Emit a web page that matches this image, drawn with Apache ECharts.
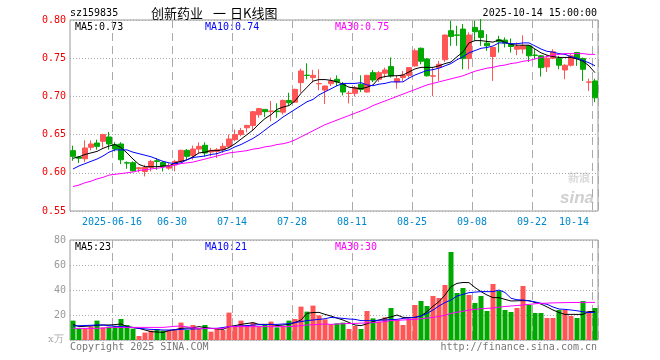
<!DOCTYPE html>
<html><head><meta charset="utf-8">
<script src="https://cdn.jsdelivr.net/npm/echarts@6/dist/echarts.min.js"></script>
<style>html,body{margin:0;padding:0;background:#fff}#c{width:660px;height:360px}</style>
</head><body><div id="c"></div>
<script>
const dates = ['2025-06-05','2025-06-06','2025-06-09','2025-06-10','2025-06-11','2025-06-12','2025-06-13',
'2025-06-16','2025-06-17','2025-06-18','2025-06-19','2025-06-20','2025-06-23','2025-06-24','2025-06-25','2025-06-26','2025-06-27',
'2025-06-30','2025-07-01','2025-07-02','2025-07-03','2025-07-04','2025-07-07','2025-07-08','2025-07-09','2025-07-10','2025-07-11',
'2025-07-14','2025-07-15','2025-07-16','2025-07-17','2025-07-18','2025-07-21','2025-07-22','2025-07-23','2025-07-24','2025-07-25',
'2025-07-28','2025-07-29','2025-07-30','2025-07-31','2025-08-01','2025-08-04','2025-08-05','2025-08-06','2025-08-07','2025-08-08',
'2025-08-11','2025-08-12','2025-08-13','2025-08-14','2025-08-15','2025-08-18','2025-08-19','2025-08-20','2025-08-21','2025-08-22',
'2025-08-25','2025-08-26','2025-08-27','2025-08-28','2025-08-29','2025-09-01','2025-09-02','2025-09-03','2025-09-04','2025-09-05',
'2025-09-08','2025-09-09','2025-09-10','2025-09-11','2025-09-12','2025-09-15','2025-09-16','2025-09-17','2025-09-18','2025-09-19',
'2025-09-22','2025-09-23','2025-09-24','2025-09-25','2025-09-26','2025-09-29','2025-09-30','2025-10-09','2025-10-10','2025-10-13','2025-10-14'];
const labelDates = ['2025-06-16','2025-06-30','2025-07-14','2025-07-28','2025-08-11','2025-08-25','2025-09-08','2025-09-22','2025-10-14'];
const yTicks = [0.55,0.60,0.65,0.70,0.75,0.80];
const priceLegend = ['MA5:0.73','MA10:0.74','MA30:0.75'];
const volLegend = ['MA5:23','MA10:21','MA30:30'];

const open = [0.629,0.6206,0.6184,0.6333,0.639,0.6412,0.6469,0.6368,0.6377,0.6132,
0.6132,0.6053,0.6017,0.607,0.6158,0.6136,0.6061,0.6105,0.6149,0.6294,
0.6224,0.6311,0.636,0.6272,0.6281,0.6303,0.6346,0.6434,0.650,0.659,
0.662,0.676,0.683,0.680,0.681,0.6794,0.6947,0.6925,0.718,0.7278,
0.7246,0.7165,0.7083,0.7167,0.7224,0.7158,0.7038,0.704,0.7158,0.7057,
0.7311,0.7224,0.7303,0.739,0.7189,0.7246,0.7276,0.7399,0.763,0.749,
0.7265,0.7377,0.748,0.786,0.7805,0.7881,0.7495,0.7903,0.786,0.7697,
0.7522,0.7741,0.7737,0.7684,0.7618,0.762,0.7662,0.7541,0.7531,0.7386,
0.75,0.7495,0.7346,0.7408,0.7574,0.7495,0.7185,0.7202];
const close = [0.6215,0.619,0.6325,0.6377,0.6346,0.650,0.6377,0.6311,0.6171,0.6127,
0.6026,0.6066,0.607,0.6149,0.6149,0.6083,0.6092,0.6149,0.6294,0.6215,
0.6311,0.6346,0.6259,0.6294,0.6303,0.6346,0.6443,0.650,0.6553,0.662,
0.680,0.684,0.680,0.681,0.680,0.6947,0.6917,0.7092,0.7333,0.7274,
0.7276,0.7169,0.7136,0.7202,0.7189,0.7057,0.7042,0.7114,0.7092,0.7276,
0.7215,0.7311,0.7346,0.7268,0.7232,0.7276,0.7377,0.7597,0.746,0.727,
0.727,0.7421,0.7803,0.7785,0.780,0.7495,0.7803,0.7846,0.7772,0.7662,
0.764,0.7715,0.7697,0.7653,0.7653,0.766,0.7531,0.7537,0.7377,0.75,
0.7583,0.7408,0.7408,0.7531,0.7495,0.7355,0.719,0.6982];
const low = [0.6158,0.6127,0.614,0.6294,0.6303,0.633,0.6303,0.628,0.6114,0.6053,
0.6018,0.6004,0.5952,0.6018,0.604,0.6018,0.604,0.602,0.614,0.6171,
0.6171,0.6259,0.6215,0.6215,0.6193,0.626,0.6325,0.6412,0.6478,0.653,
0.656,0.672,0.673,0.6675,0.672,0.6763,0.6882,0.692,0.7048,0.7224,
0.718,0.708,0.690,0.7136,0.7136,0.7013,0.6908,0.700,0.7057,0.705,
0.7189,0.7189,0.7246,0.7246,0.7101,0.7202,0.7246,0.739,0.742,0.726,
0.7004,0.7202,0.745,0.7662,0.7662,0.7355,0.7355,0.7728,0.7662,0.7596,
0.7202,0.7574,0.764,0.7574,0.7539,0.756,0.7452,0.7487,0.7259,0.732,
0.7487,0.7355,0.7224,0.739,0.7399,0.7202,0.707,0.6925];
const high = [0.6355,0.622,0.6425,0.6425,0.6434,0.651,0.6535,0.640,0.640,0.6149,
0.615,0.6075,0.6105,0.6171,0.6193,0.615,0.6127,0.617,0.6303,0.631,
0.6355,0.6399,0.6399,0.6325,0.6325,0.639,0.650,0.6566,0.6588,0.663,
0.681,0.685,0.683,0.694,0.691,0.696,0.7048,0.710,0.7364,0.7434,
0.7346,0.7355,0.714,0.7246,0.7276,0.7189,0.707,0.7136,0.7276,0.7276,
0.7346,0.7333,0.7377,0.7509,0.7276,0.7333,0.7377,0.7627,0.764,0.750,
0.7377,0.7465,0.781,0.7991,0.7925,0.7947,0.7838,0.7991,0.8013,0.7816,
0.764,0.7794,0.7772,0.7759,0.7706,0.780,0.7671,0.7618,0.7539,0.7539,
0.7618,0.7531,0.7421,0.7553,0.7583,0.7509,0.7232,0.7232];
const ma5 = [0.619,0.621,0.624,0.626,0.628,0.632,0.635,0.637,0.633,0.626,
0.618,0.611,0.608,0.608,0.608,0.609,0.609,0.613,0.615,0.617,
0.621,0.626,0.627,0.629,0.629,0.630,0.633,0.638,0.644,0.650,
0.656,0.664,0.671,0.676,0.683,0.686,0.688,0.694,0.704,0.712,
0.720,0.722,0.722,0.721,0.719,0.716,0.712,0.711,0.710,0.712,
0.715,0.724,0.726,0.727,0.727,0.728,0.732,0.736,0.738,0.738,
0.738,0.740,0.743,0.745,0.752,0.758,0.770,0.773,0.773,0.772,
0.771,0.774,0.771,0.768,0.767,0.767,0.767,0.762,0.757,0.754,
0.752,0.751,0.751,0.751,0.749,0.746,0.740,0.731];
const ma10 = [0.605,0.609,0.612,0.615,0.618,0.622,0.627,0.630,0.630,0.630,
0.627,0.625,0.623,0.621,0.618,0.615,0.613,0.612,0.613,0.617,
0.620,0.621,0.622,0.624,0.625,0.628,0.630,0.634,0.637,0.641,
0.645,0.650,0.656,0.662,0.667,0.673,0.678,0.683,0.688,0.693,
0.696,0.702,0.706,0.710,0.714,0.717,0.717,0.717,0.718,0.715,
0.714,0.716,0.717,0.719,0.719,0.719,0.724,0.728,0.731,0.734,
0.735,0.737,0.740,0.743,0.748,0.752,0.757,0.760,0.763,0.764,
0.766,0.770,0.770,0.769,0.769,0.770,0.770,0.766,0.762,0.759,
0.758,0.756,0.755,0.752,0.750,0.747,0.744,0.740];
const ma30 = [0.582,0.584,0.587,0.589,0.592,0.594,0.597,0.598,0.599,0.600,
0.601,0.603,0.604,0.605,0.606,0.607,0.609,0.610,0.612,0.613,
0.614,0.616,0.618,0.620,0.622,0.624,0.626,0.627,0.628,0.629,
0.631,0.632,0.634,0.635,0.637,0.638,0.640,0.643,0.647,0.651,
0.655,0.659,0.663,0.666,0.669,0.672,0.675,0.678,0.681,0.684,
0.688,0.691,0.694,0.697,0.700,0.703,0.706,0.709,0.712,0.715,
0.717,0.719,0.721,0.723,0.725,0.727,0.730,0.733,0.735,0.737,
0.738,0.740,0.741,0.743,0.744,0.746,0.747,0.749,0.751,0.752,
0.754,0.755,0.756,0.756,0.756,0.756,0.755,0.755];
const vol = [15.5,9.3,9.3,10.7,15.5,10.1,10.7,11.2,16.8,12,
9.1,3.2,5.9,7.5,8.8,7.5,8,8.8,13.9,8,
12,9.1,12,6.7,8.8,8,21.9,11.2,15.5,12,
13.9,10.7,12.5,14.7,10.1,11.2,15.5,16.8,26.7,22.7,
27.5,19.7,16.5,12.5,13.3,13.9,8.8,11.2,8.8,23.2,
17.3,14.7,18.1,25.6,16,12,17.3,28,31.2,27.2,
35.2,33.6,44,70.4,37.6,41.6,36,29.6,35.2,23.2,
44.8,39.2,24,22.4,25.6,43.2,28,21.6,21.6,17.6,
17.6,24,24,19.2,17.6,31.2,23.2,25.6];
const vma5 = [12.5,10.7,11,11.2,11.8,12,12,12.3,12.8,10.7,
10,9.3,8,6.7,6.4,6.1,7.5,8.3,9.3,9.6,
9.9,10.7,10,9.3,8.9,8.5,10.7,11.5,12.5,13.2,
13.9,12.5,12.5,12.5,11.5,12,12.5,14,16,21.3,
22,22.1,20.5,19.2,17.5,16,14,12,11.5,13,
14.7,16,17.3,18.5,20,18.1,18,18.1,19.2,22.7,
27,30.7,36,42.7,45.3,46,45.9,42,38.7,36,
33.9,33.9,32.5,31.2,31.4,31.5,31.5,30,28.8,26.5,
24,22,20.5,20.5,20.5,20.5,22.7,22.7];
const vma10 = [11.2,11.4,11.6,11.8,12,12,11.5,11,10.7,10.5,
10,9.3,8.9,8.5,8.3,8,8,8.2,8.5,8.8,
8.8,9,9.2,9.3,9.3,10,10.7,11,11.2,11.5,
12,12.2,12.3,12.5,12.5,12.8,13,14,14.7,15.5,
16,16.5,17,18.1,17.7,17.3,16.8,16.5,15.5,15.5,
15.5,15.8,16,16.3,16.5,17.3,17.7,18.1,19.2,21.3,
24,27.2,30,32,35.2,36.5,37.9,38.3,38.7,38.7,
38.7,40,38,33.4,32.2,32,31.3,30.5,29.4,28.6,
26.4,24.8,24.5,24,23.4,22.6,22,22.2];
const vma30 = [9.3,9.3,9.3,9.3,9.3,9.5,10.1,10.1,10.1,10.1,
10.1,10.1,10.1,10.1,10.1,10.1,10.5,11,11.2,10.5,
9.8,9.3,9.3,9.3,9.3,9.3,10.7,10.7,10.7,10.7,
10.7,10.7,10.7,10.7,10.7,10.7,10.7,11,11.5,12,
12.2,12.5,12.8,12.5,12.8,13,13.2,13.3,13.5,13.7,
13.9,14.3,14.7,15.5,15.8,16,16.3,16.5,17,17.5,
18.1,18.8,19.8,21.3,22.2,23,24,24.5,25,25.3,
25.6,26.3,26.8,27.2,27.6,28,28.5,29,29.3,29.5,
29.7,29.8,29.9,30,30,30.1,30.1,30.1];

const RED = '#ff5555', GREEN = '#00a800';
const MONO = 'DejaVu Sans Mono';
const labelIdx = labelDates.map(d => dates.indexOf(d));
const showAt = (i) => labelIdx.indexOf(i) >= 0;

const kData = dates.map((d, i) => [open[i], close[i], low[i], high[i]]);
const volData = vol.map((v, i) => ({ value: v, itemStyle: { color: close[i] > open[i] ? RED : GREEN } }));

const vSplit = { show: true, interval: (i) => showAt(i), lineStyle: { color: '#aaa', type: [8, 5], width: 1 } };
const hSplit = { show: true, lineStyle: { color: '#aaa', type: [1, 2], width: 1 } };

const chart = echarts.init(document.getElementById('c'), null, { renderer: 'canvas' });
const txt = (x, y, s, color, font, align) => ({
  type: 'text', x: x, y: y,
  style: { text: s, fill: color, font: font, textAlign: align || 'left', textVerticalAlign: 'middle' }
});
const CJK = '13px "Noto Sans CJK SC"';
chart.setOption({
  animation: false,
  backgroundColor: '#fff',
  grid: [
    { left: 70, right: 62, top: 20, height: 191, show: true, borderColor: '#999', borderWidth: 1 },
    { left: 70, right: 62, top: 240, height: 100, show: true, borderColor: '#999', borderWidth: 1 }
  ],
  xAxis: [
    { type: 'category', gridIndex: 0, data: dates, boundaryGap: true,
      axisLine: { show: false }, axisTick: { show: false },
      axisLabel: { interval: (i) => showAt(i), color: '#0088cc', fontFamily: MONO, fontSize: 10, margin: 6,
        padding: [0, 6, 0, 0], alignMaxLabel: 'right',
        formatter: (v, i) => i === labelIdx[0] ? v : v.slice(5) },
      splitLine: vSplit },
    { type: 'category', gridIndex: 1, data: dates, boundaryGap: true,
      axisLine: { show: false }, axisTick: { show: false }, axisLabel: { show: false },
      splitLine: vSplit }
  ],
  yAxis: [
    { type: 'value', gridIndex: 0, min: yTicks[0], max: yTicks[yTicks.length - 1], interval: 0.05,
      axisLine: { show: false }, axisTick: { show: false },
      axisLabel: { color: '#ee0000', fontFamily: MONO, fontSize: 10, margin: 4, formatter: (v) => v.toFixed(2) },
      splitLine: hSplit },
    { type: 'value', gridIndex: 1, min: 0, max: 80, interval: 20,
      axisLine: { show: false }, axisTick: { show: false },
      axisLabel: { color: '#999', fontFamily: MONO, fontSize: 10, margin: 4, formatter: (v) => v === 0 ? '' : String(v) },
      splitLine: hSplit }
  ],
  series: [
    { type: 'candlestick', xAxisIndex: 0, yAxisIndex: 0, data: kData, barWidth: 5,
      itemStyle: { color: RED, color0: GREEN, borderColor: RED, borderColor0: GREEN, borderWidth: 1 } },
    { type: 'line', xAxisIndex: 0, yAxisIndex: 0, data: ma5, symbol: 'none', lineStyle: { color: '#000', width: 1 } },
    { type: 'line', xAxisIndex: 0, yAxisIndex: 0, data: ma10, symbol: 'none', lineStyle: { color: '#0000ff', width: 1 } },
    { type: 'line', xAxisIndex: 0, yAxisIndex: 0, data: ma30, symbol: 'none', lineStyle: { color: '#ff00ff', width: 1 } },
    { type: 'bar', xAxisIndex: 1, yAxisIndex: 1, data: volData, barWidth: 5 },
    { type: 'line', xAxisIndex: 1, yAxisIndex: 1, data: vma5, symbol: 'none', lineStyle: { color: '#000', width: 1 } },
    { type: 'line', xAxisIndex: 1, yAxisIndex: 1, data: vma10, symbol: 'none', lineStyle: { color: '#0000ff', width: 1 } },
    { type: 'line', xAxisIndex: 1, yAxisIndex: 1, data: vma30, symbol: 'none', lineStyle: { color: '#ff00ff', width: 1 } }
  ],
  graphic: [
    txt(70, 13, 'sz159835', '#000', '10px ' + MONO),
    txt(151, 13, '创新药业', '#000', CJK),
    txt(213, 13, '一', '#000', CJK),
    txt(230, 13, '日K线图', '#000', CJK),
    txt(597, 13, '2025-10-14 15:00:00', '#000', '10px ' + MONO, 'right'),
    txt(75, 27, priceLegend[0], '#000', '10px ' + MONO),
    txt(205, 27, priceLegend[1], '#0000ff', '10px ' + MONO),
    txt(335, 27, priceLegend[2], '#ff00ff', '10px ' + MONO),
    txt(75, 247, volLegend[0], '#000', '10px ' + MONO),
    txt(205, 247, volLegend[1], '#0000ff', '10px ' + MONO),
    txt(335, 247, volLegend[2], '#ff00ff', '10px ' + MONO),
    txt(48, 339, 'x万', '#aaa', '10px "DejaVu Serif"'),
    txt(70, 347, 'Copyright 2025 SINA.COM', '#777', '10px ' + MONO),
    txt(597, 347, 'http://finance.sina.com.cn', '#777', '10px ' + MONO, 'right'),
    txt(594, 198, 'sina', '#cfcfcf', 'italic bold 17px "Liberation Sans"', 'right'),
    txt(590, 178, '新浪', '#dadada', 'bold 11px "Noto Sans CJK SC"', 'right')
  ]
});
</script></body></html>
